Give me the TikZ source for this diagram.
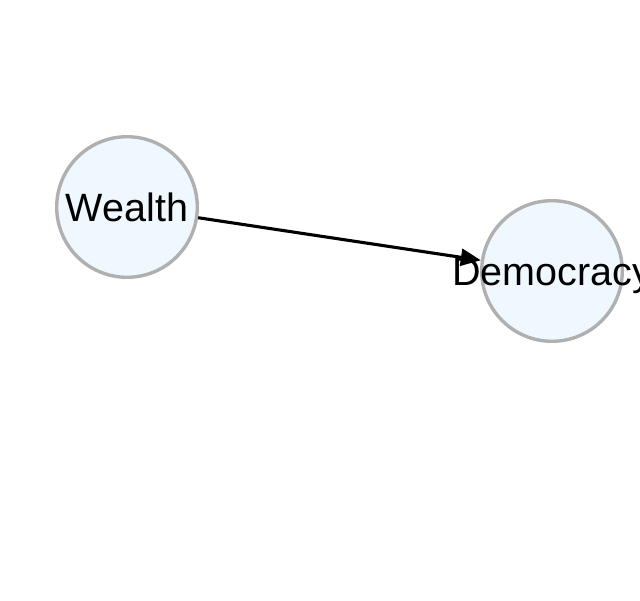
\documentclass[tikz,border=0pt]{standalone}
\usepackage{fontspec}
\setmainfont{Liberation Sans}
\usetikzlibrary{arrows.meta, positioning}

\definecolor{nodefill}{RGB}{240,248,255}
\definecolor{nodeline}{RGB}{176,176,176}

\begin{document}
\begin{tikzpicture}[x=1pt, y=-1pt,
  var/.style={circle, draw=nodeline, fill=nodefill, line width=3.4pt,
    minimum size=140.6pt, inner sep=0pt,
    font=\fontsize{39.5}{47}\selectfont, text height=28pt, text depth=0pt},
  link/.style={-{Triangle[length=20pt, width=17pt]}, line width=3.1pt, black}]
  \clip (0,0) rectangle (640,600);
  \useasboundingbox (0,0) rectangle (640,600);
  \node[var] (wealth) at (127,207) {\makebox[0pt]{Wealth}};
  \node[var] (democracy) at (552,271) {\makebox[0pt]{Democracy}};
  \draw[link] (wealth) -- (democracy);
\end{tikzpicture}
\end{document}
